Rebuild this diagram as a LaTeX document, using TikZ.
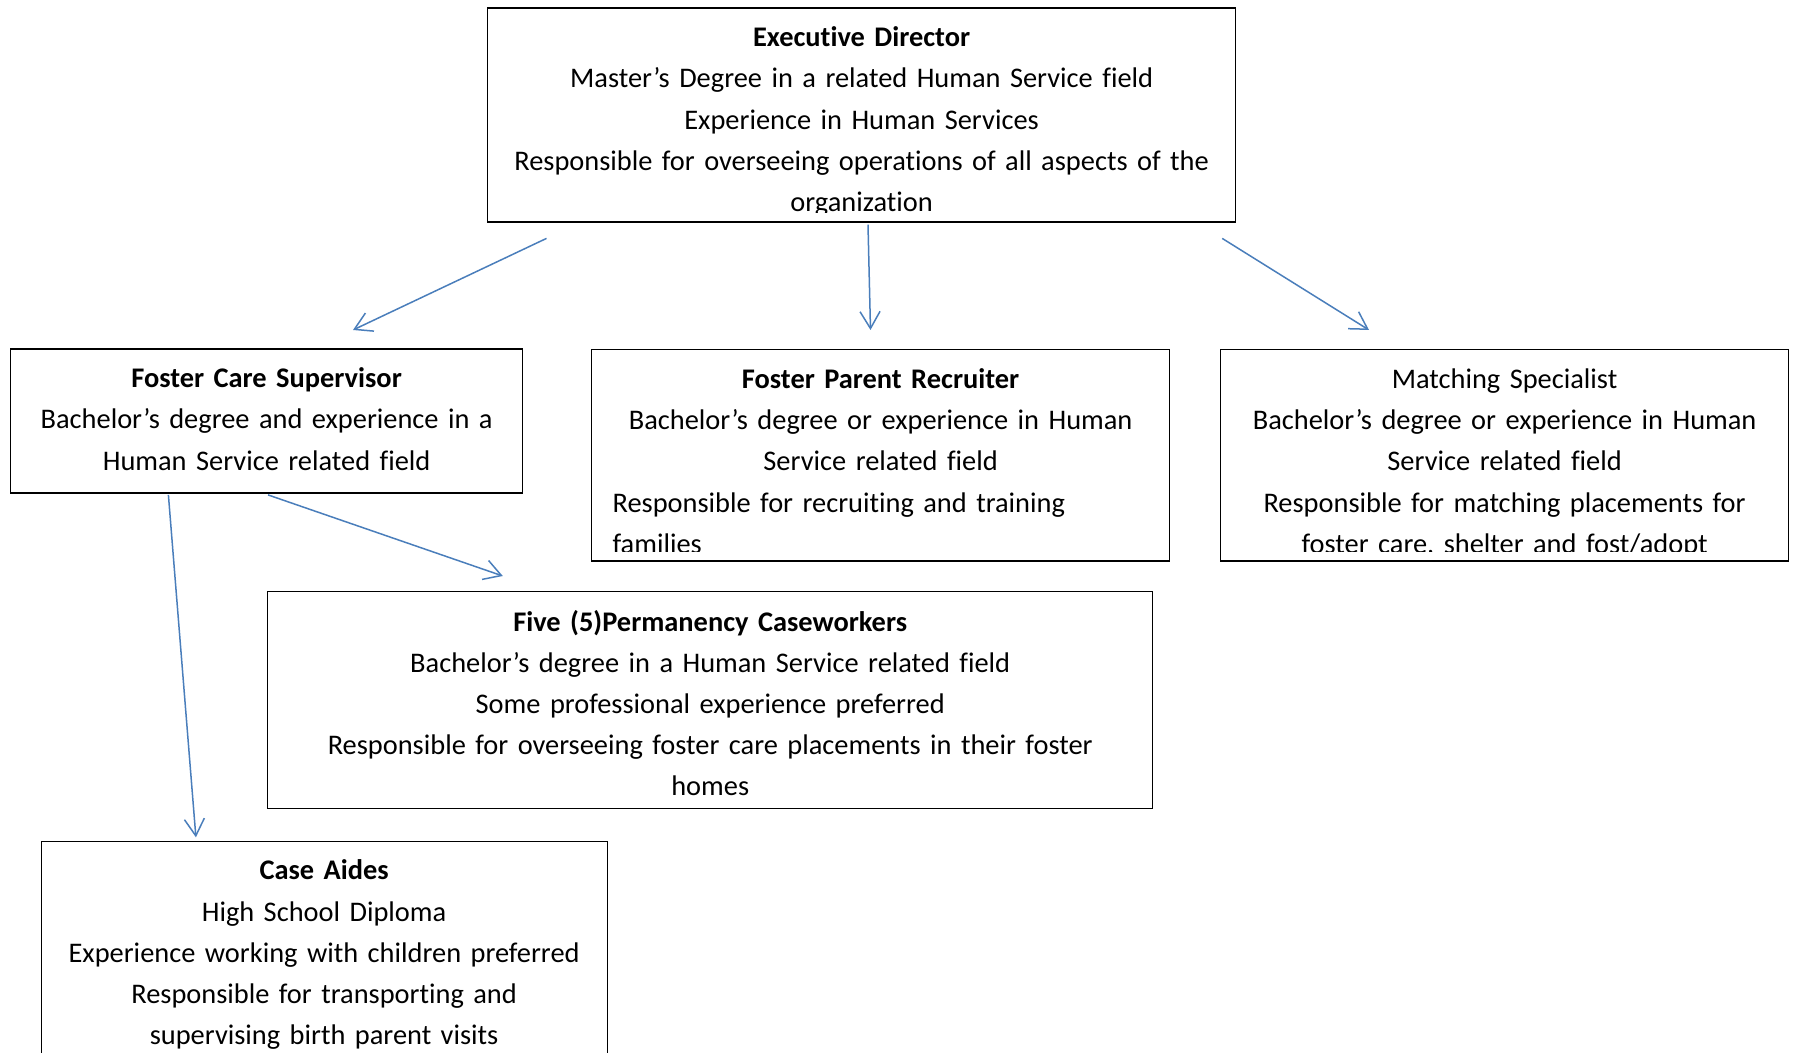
\documentclass[tikz,border=0pt]{standalone}
\usepackage{fontspec}
\setmainfont{Carlito}[Ligatures={TeX,CommonOff}]
\usepackage{xcolor}
\usetikzlibrary{calc,arrows.meta}

\definecolor{linkblue}{HTML}{4A7EBB}
\newcommand{\rolefont}{\fontsize{14.2}{20.6}\selectfont}
% strut: first baseline sits 15pt under the top of the text node
\newcommand{\linetop}{\rule{0pt}{15pt}}

\tikzset{
  role/.style={draw, line width=0.6pt, anchor=north west, inner sep=0pt},
  txt/.style={anchor=north, align=center, inner sep=0pt, minimum width=0pt, minimum height=0pt, font=\rolefont},
  link/.style={draw=linkblue, line width=0.75pt, -{Straight Barb[length=8.5pt, width=10pt]}}
}

\begin{document}
\begin{tikzpicture}[x=0.5pt, y=-0.5pt]
    \useasboundingbox (0,0) rectangle (1796,1053);

    % boxes (text clipped like the word text boxes)
    \node [role, minimum width=374pt, minimum height=107pt, path picture={
        \clip ([yshift=4.75pt]path picture bounding box.south west) rectangle (path picture bounding box.north east);
        \node [txt, text width=368pt] at ([yshift=-4pt]path picture bounding box.north) {\linetop\textbf{Executive Director}\\
            Master’s Degree in a related Human Service field\\
            Experience in Human Services\\
            Responsible for overseeing operations of all aspects of the\\
            organization};
    }] (ed) at (487,7.5) {};

    \node [role, minimum width=256pt, minimum height=72pt, path picture={
        \node [txt, text width=250pt] at ([yshift=-4pt]path picture bounding box.north) {\linetop\textbf{Foster Care Supervisor}\\
            Bachelor’s degree and experience in a\\
            Human Service related field};
    }] (fcs) at (10,348.5) {};

    \node [role, minimum width=289pt, minimum height=105.6pt, path picture={
        \clip ([yshift=4.75pt]path picture bounding box.south west) rectangle (path picture bounding box.north east);
        \node [txt, text width=268pt, align=left] at ([yshift=-4pt]path picture bounding box.north) {{\centering\linetop\textbf{Foster Parent Recruiter}\\
            Bachelor’s degree or experience in Human\\
            Service related field\endgraf}
            Responsible for recruiting and training\\
            families};
    }] (fpr) at (591,349.3) {};

    \node [role, minimum width=284pt, minimum height=105.6pt, path picture={
        \clip ([yshift=4.75pt]path picture bounding box.south west) rectangle (path picture bounding box.north east);
        \node [txt, text width=278pt] at ([yshift=-4pt]path picture bounding box.north) {\linetop Matching Specialist\\
            Bachelor’s degree or experience in Human\\
            Service related field\\
            Responsible for matching placements for\\
            foster care, shelter and fost/adopt};
    }] (ms) at (1220,349.3) {};

    \node [role, minimum width=442.6pt, minimum height=108.5pt, path picture={
        \node [txt, text width=436pt] at ([yshift=-4.5pt]path picture bounding box.north) {\linetop\textbf{Five (5)Permanency Caseworkers}\\
            Bachelor’s degree in a Human Service related field\\
            Some professional experience preferred\\
            Responsible for overseeing foster care placements in their foster\\
            homes};
    }] (five) at (267,591) {};

    \node [role, minimum width=283pt, minimum height=125pt, path picture={
        \node [txt, text width=277pt] at ([yshift=-4pt]path picture bounding box.north) {\linetop\textbf{Case Aides}\\
            High School Diploma\\
            Experience working with children preferred\\
            Responsible for transporting and\\
            supervising birth parent visits};
    }] (ca) at (40.5,840.7) {};

    % reporting lines
    \draw [link] ($(ed.south west)+(59.5,15.7)$) -- ($(fcs.north west)+(343,-18.5)$);
    \draw [link] ($(ed.south west)+(381,2)$) -- ($(fpr.north west)+(279.5,-19.3)$);
    \draw [link] ($(ed.south east)+(-14,15.7)$) -- ($(ms.north west)+(149,-19.3)$);
    \draw [link] ($(fcs.south west)+(258,1.2)$) -- ($(five.north west)+(235.8,-15)$);
    \draw [link] ($(fcs.south west)+(158.4,1.2)$) -- ($(ca.north west)+(155.4,-3.4)$);
\end{tikzpicture}
\end{document}
